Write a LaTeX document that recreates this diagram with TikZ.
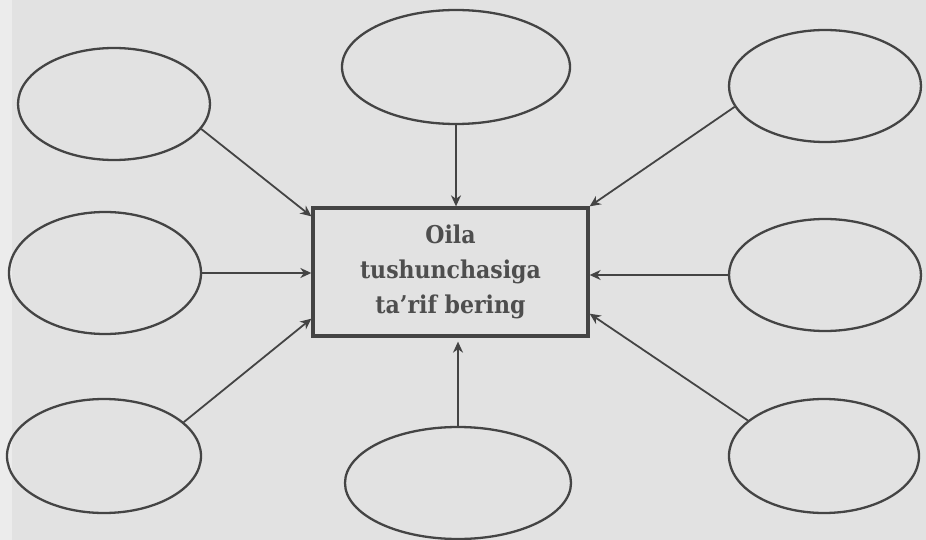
\documentclass[tikz,border=0pt]{standalone}
\usepackage{fontspec}
\setmainfont{DejaVu Serif Condensed}
\usetikzlibrary{shapes.geometric,arrows.meta,calc}
\definecolor{bgc}{RGB}{226,226,226}
\definecolor{ink}{RGB}{68,68,68}
\definecolor{txt}{RGB}{78,78,78}
\begin{document}
\begin{tikzpicture}[x=1pt,y=-1pt,
  bubble/.style={draw=ink,line width=2.3pt,ellipse,inner sep=0pt},
  mainbox/.style={draw=ink,line width=3.3pt,rectangle,inner sep=0pt,minimum width=275pt,minimum height=128pt,
    align=center,text=txt,font=\fontsize{24.5}{35}\selectfont\bfseries},
  arr/.style={draw=ink,line width=1.8pt,-{Stealth[length=11pt,width=10pt,inset=3.5pt]}}]
\fill[bgc] (0,0) rectangle (926,540);
\fill[white,opacity=0.35] (0,0) rectangle (12,540);
\useasboundingbox (0,0) rectangle (926,540);
\node[mainbox] (box) at (450.5,272) {Oila\\tushunchasiga\\ta’rif bering};
\node[bubble,minimum width=192pt,minimum height=112pt] (e1) at (114,104) {};
\node[bubble,minimum width=228pt,minimum height=114pt] (e2) at (456,67) {};
\node[bubble,minimum width=192pt,minimum height=112pt] (e3) at (825,86) {};
\node[bubble,minimum width=192pt,minimum height=122pt] (e4) at (105,273) {};
\node[bubble,minimum width=192pt,minimum height=112pt] (e5) at (825,275) {};
\node[bubble,minimum width=194pt,minimum height=114pt] (e6) at (104,456) {};
\node[bubble,minimum width=226pt,minimum height=112pt] (e7) at (458,483) {};
\node[bubble,minimum width=190pt,minimum height=114pt] (e8) at (824,456) {};
\draw[arr] (e1.-16) -- ($(box.north west)+(0,10)$);
\draw[arr] (e2.south) -- (e2.south |- box.north);
\draw[arr] (e3.193) -- (box.north east);
\draw[arr] (e4.east) -- (e4.east -| box.west);
\draw[arr] (e5.west) -- (e5.west -| box.east);
\draw[arr] (e6.23) -- ($(box.south west)+(0,-19)$);
\draw[arr] (e7.north) -- ($(e7.north |- box.south)+(0,4)$);
\draw[arr] (e8.155) -- ($(box.south east)+(0,-24)$);
\end{tikzpicture}
\end{document}
